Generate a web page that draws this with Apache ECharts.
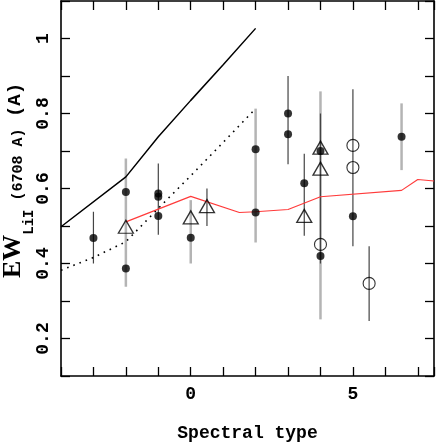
<!DOCTYPE html>
<html>
<head>
<meta charset="utf-8">
<script src="https://cdn.jsdelivr.net/npm/echarts@6/dist/echarts.min.js"></script>
<style>
  html, body { margin: 0; padding: 0; background: #fff; }
  #chart { width: 436px; height: 445px; }
</style>
</head>
<body>
<div id="chart"></div>
<script>
(function(){
    // model curves [spectral type, EW]
    var solidLine = [[-4, 0.498], [-2, 0.631], [-1, 0.738], [0, 0.835], [1, 0.93], [2, 1.027]];
    var dottedLine = [[-4, 0.382], [-3, 0.416], [-2, 0.458], [-1, 0.547], [0, 0.634], [1, 0.723], [2, 0.813]];
    var redLine = [[-2, 0.511], [0, 0.579], [1.5, 0.536], [2, 0.538], [3, 0.544], [4, 0.578], [6.5, 0.595], [7, 0.624], [7.5, 0.620]];

    // measurements
    var filledDots = [[-3, 0.468], [-2, 0.591], [-2, 0.387], [-1, 0.587], [-1, 0.578], [-1, 0.527],
        [0, 0.469], [2, 0.705], [2, 0.536], [3, 0.80], [3, 0.745], [3.5, 0.614], [4, 0.70],
        [4, 0.42], [5, 0.526], [6.5, 0.738]];
    var triangles = [[-2, 0.498], [0, 0.523], [0.5, 0.553], [3.5, 0.527], [4, 0.709], [4, 0.653]];
    var openDots = [[4, 0.451], [5, 0.715], [5, 0.656], [5.5, 0.347]];

    // error bars [x, low, high]
    var errGrey = [[-2, 0.338, 0.68], [0, 0.40, 0.569], [2, 0.456, 0.813], [4, 0.251, 0.859], [6.5, 0.649, 0.827]];
    var errDark = [[-3, 0.40, 0.538], [-1, 0.477, 0.667], [0.5, 0.50, 0.60], [3, 0.665, 0.90],
        [3.5, 0.474, 0.693], [4, 0.40, 0.80], [5, 0.446, 0.865], [5.5, 0.247, 0.446]];

    var xTickLabels = [0, 5];
    var yTickLabels = [0.2, 0.4, 0.6, 0.8, 1];

    var font = 'Liberation Mono';
    var myChart = echarts.init(document.getElementById('chart'));

    function errSeries(data, color, width) {
        return {
            type: 'custom',
            silent: true,
            z: 1,
            encode: { x: 0, y: [1, 2] },
            data: data,
            renderItem: function(params, api) {
                var a = api.coord([api.value(0), api.value(1)]);
                var b = api.coord([api.value(0), api.value(2)]);
                return {
                    type: 'line',
                    shape: { x1: a[0], y1: a[1], x2: b[0], y2: b[1] },
                    style: { stroke: color, lineWidth: width }
                };
            }
        };
    }

    var axLine = { show: true, onZero: false, lineStyle: { color: '#000', width: 1.6 } };
    var axTick = { show: true, inside: true, length: 9, lineStyle: { color: '#000', width: 1.3 } };

    function xAx(pos, labels) {
        return {
            type: 'value', position: pos, min: -4, max: 7.5, interval: 1,
            axisLine: axLine, axisTick: axTick, splitLine: { show: false },
            axisLabel: {
                show: labels, margin: 9, color: '#000', fontFamily: font, fontWeight: 'bold', fontSize: 18,
                formatter: function(v) { return xTickLabels.indexOf(v) >= 0 ? String(v) : ''; }
            }
        };
    }
    function yAx(pos, labels) {
        return {
            type: 'value', position: pos, min: 0.1, max: 1.1, interval: 0.1,
            axisLine: axLine, axisTick: axTick, splitLine: { show: false },
            axisLabel: {
                show: labels, rotate: 90, margin: 9, color: '#000', fontFamily: font, fontWeight: 'bold', fontSize: 18,
                formatter: function(v) {
                    var r = Math.round(v * 10) / 10;
                    return yTickLabels.indexOf(r) >= 0 ? String(r) : '';
                }
            }
        };
    }

    var xMain = xAx('bottom', true);
    xMain.name = 'Spectral type';
    xMain.nameLocation = 'middle';
    xMain.nameGap = 48;
    xMain.nameMoveOverlap = false;
    xMain.nameTextStyle = { color: '#000', fontFamily: font, fontWeight: 'bold', fontSize: 18 };

    var yMain = yAx('left', true);
    yMain.name = '{a|EW}{b|LiI}{c| (6708 A)}{d| (A)}';
    yMain.nameLocation = 'middle';
    yMain.nameRotate = 90;
    yMain.nameGap = 25;
    yMain.nameMoveOverlap = false;
    yMain.nameTextStyle = {
        color: '#000',
        rich: {
            a: { fontFamily: 'Liberation Serif', fontWeight: 'bold', fontSize: 26, lineHeight: 24, verticalAlign: 'bottom', padding: [0, 0, 10, 16] },
            b: { fontFamily: font, fontWeight: 'bold', fontSize: 14, lineHeight: 14, verticalAlign: 'bottom' },
            c: { fontFamily: font, fontWeight: 'bold', fontSize: 15, lineHeight: 15, verticalAlign: 'bottom', padding: [0, 0, 10, 0] },
            d: { fontFamily: font, fontWeight: 'bold', fontSize: 19, lineHeight: 20, verticalAlign: 'bottom', padding: [0, 0, 11, 0] }
        }
    };

    var option = {
        animation: false,
        backgroundColor: '#fff',
        grid: { left: 61, right: 2, top: 1, bottom: 69, containLabel: false, outerBoundsMode: 'none' },
        xAxis: [xMain, xAx('top', false)],
        yAxis: [yMain, yAx('right', false)],
        series: [
            { type: 'line', data: solidLine, symbol: 'none', lineStyle: { color: '#000', width: 1.5 }, z: 2 },
            { type: 'line', data: dottedLine, symbol: 'none', lineStyle: { color: '#000', width: 1.6, type: [1.6, 5] }, z: 2 },
            { type: 'line', data: redLine, symbol: 'none', lineStyle: { color: '#ff3b3b', width: 1.2 }, z: 2 },
            errSeries(errGrey, '#b4b4b4', 2.5),
            errSeries(errDark, '#444', 1.2),
            { type: 'scatter', data: filledDots, symbol: 'circle', symbolSize: 8, itemStyle: { color: '#000' }, z: 4 },
            { type: 'scatter', data: triangles, symbol: 'triangle', symbolSize: [15, 13],
              itemStyle: { color: 'rgba(255,255,255,0)', borderColor: '#000', borderWidth: 1.3 }, z: 3 },
            { type: 'scatter', data: openDots, symbol: 'circle', symbolSize: 12,
              itemStyle: { color: 'rgba(255,255,255,0)', borderColor: '#000', borderWidth: 1.1 }, z: 3 }
        ]
    };
    myChart.setOption(option);
    window.addEventListener('resize', function() {
        myChart.resize();
    });
})();
</script>
</body>
</html>
